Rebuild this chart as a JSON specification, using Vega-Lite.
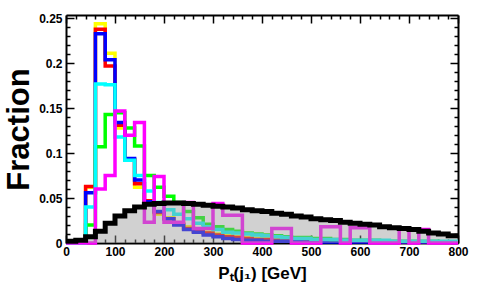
{
  "$schema": "https://vega.github.io/schema/vega-lite/v6.json",
  "width": 392,
  "height": 228,
  "autosize": {"type": "none"},
  "padding": {"left": 66, "top": 15, "right": 19, "bottom": 64},
  "background": "white",
  "config": {
    "view": {"stroke": null},
    "axis": {
      "domain": true, "domainColor": "black", "domainWidth": 2, "grid": false,
      "tickColor": "black", "tickWidth": 1.5, "zindex": 1,
      "labelFont": "Liberation Sans", "labelFontWeight": "bold", "labelFontSize": 12, "labelColor": "black",
      "labelFlush": false, "labelOverlap": false,
      "titleFont": "Liberation Sans", "titleFontWeight": "bold", "titleColor": "black"
    }
  },
  "data": {"values": [
    {"x": 0, "Y": 0, "R": 0, "B": 0, "G": 0, "C": 0, "M": 0, "K": 0.002},
    {"x": 20, "Y": 0, "R": 0, "B": 0, "G": 0, "C": 0, "M": 0, "K": 0.003},
    {"x": 40, "Y": 0.062, "R": 0.063, "B": 0.056, "G": 0.02, "C": 0.04, "M": 0, "K": 0.007},
    {"x": 60, "Y": 0.2439, "R": 0.2379, "B": 0.2328, "G": 0.107, "C": 0.177, "M": 0.06, "K": 0.013},
    {"x": 80, "Y": 0.211, "R": 0.197, "B": 0.204, "G": 0.143, "C": 0.176, "M": 0.075, "K": 0.022},
    {"x": 100, "Y": 0.128, "R": 0.131, "B": 0.134, "G": 0.145, "C": 0.118, "M": 0.147, "K": 0.03},
    {"x": 120, "Y": 0.092, "R": 0.093, "B": 0.094, "G": 0.128, "C": 0.092, "M": 0.12, "K": 0.036},
    {"x": 140, "Y": 0.062, "R": 0.066, "B": 0.07, "G": 0.108, "C": 0.075, "M": 0.134, "K": 0.04},
    {"x": 160, "Y": 0.045, "R": 0.047, "B": 0.046, "G": 0.075, "C": 0.058, "M": 0.023, "K": 0.043},
    {"x": 180, "Y": 0.032, "R": 0.034, "B": 0.035, "G": 0.062, "C": 0.045, "M": 0.074, "K": 0.044},
    {"x": 200, "Y": 0.028, "R": 0.027, "B": 0.027, "G": 0.052, "C": 0.037, "M": 0.023, "K": 0.0445},
    {"x": 220, "Y": 0.022, "R": 0.021, "B": 0.02, "G": 0.045, "C": 0.032, "M": 0.023, "K": 0.0445},
    {"x": 240, "Y": 0.018, "R": 0.016, "B": 0.015, "G": 0.035, "C": 0.027, "M": 0.045, "K": 0.044},
    {"x": 260, "Y": 0.015, "R": 0.013, "B": 0.012, "G": 0.028, "C": 0.022, "M": 0.016, "K": 0.043},
    {"x": 280, "Y": 0.012, "R": 0.011, "B": 0.009, "G": 0.021, "C": 0.018, "M": 0.016, "K": 0.042},
    {"x": 300, "Y": 0.01, "R": 0.009, "B": 0.007, "G": 0.018, "C": 0.015, "M": 0.044, "K": 0.041},
    {"x": 320, "Y": 0.008, "R": 0.007, "B": 0.005, "G": 0.015, "C": 0.012, "M": 0.031, "K": 0.04},
    {"x": 340, "Y": 0.007, "R": 0.006, "B": 0.004, "G": 0.013, "C": 0.011, "M": 0.031, "K": 0.039},
    {"x": 360, "Y": 0.006, "R": 0.005, "B": 0.003, "G": 0.011, "C": 0.01, "M": 0, "K": 0.037},
    {"x": 380, "Y": 0.005, "R": 0.004, "B": 0.003, "G": 0.01, "C": 0.009, "M": 0, "K": 0.036},
    {"x": 400, "Y": 0.005, "R": 0.004, "B": 0.002, "G": 0.009, "C": 0.008, "M": 0, "K": 0.035},
    {"x": 420, "Y": 0.004, "R": 0.003, "B": 0.002, "G": 0.008, "C": 0.007, "M": 0.016, "K": 0.033},
    {"x": 440, "Y": 0.004, "R": 0.003, "B": 0.002, "G": 0.007, "C": 0.006, "M": 0.016, "K": 0.032},
    {"x": 460, "Y": 0.003, "R": 0.003, "B": 0.002, "G": 0.006, "C": 0.005, "M": 0, "K": 0.03},
    {"x": 480, "Y": 0.003, "R": 0.002, "B": 0.001, "G": 0.006, "C": 0.005, "M": 0, "K": 0.029},
    {"x": 500, "Y": 0.003, "R": 0.002, "B": 0.001, "G": 0.005, "C": 0.004, "M": 0, "K": 0.027},
    {"x": 520, "Y": 0.002, "R": 0.002, "B": 0.001, "G": 0.005, "C": 0.004, "M": 0.018, "K": 0.026},
    {"x": 540, "Y": 0.002, "R": 0.002, "B": 0.001, "G": 0.004, "C": 0.004, "M": 0.018, "K": 0.025},
    {"x": 560, "Y": 0.002, "R": 0.002, "B": 0.001, "G": 0.004, "C": 0.003, "M": 0, "K": 0.023},
    {"x": 580, "Y": 0.002, "R": 0.002, "B": 0.001, "G": 0.003, "C": 0.003, "M": 0.017, "K": 0.022},
    {"x": 600, "Y": 0.002, "R": 0.002, "B": 0.001, "G": 0.003, "C": 0.003, "M": 0.017, "K": 0.021},
    {"x": 620, "Y": 0.001, "R": 0.001, "B": 0.001, "G": 0.003, "C": 0.003, "M": 0, "K": 0.02},
    {"x": 640, "Y": 0.001, "R": 0.001, "B": 0.001, "G": 0.002, "C": 0.003, "M": 0, "K": 0.018},
    {"x": 660, "Y": 0.001, "R": 0.001, "B": 0.001, "G": 0.002, "C": 0.002, "M": 0, "K": 0.017},
    {"x": 680, "Y": 0.001, "R": 0.001, "B": 0.001, "G": 0.002, "C": 0.002, "M": 0.016, "K": 0.016},
    {"x": 700, "Y": 0.001, "R": 0.001, "B": 0.001, "G": 0.002, "C": 0.002, "M": 0, "K": 0.015},
    {"x": 720, "Y": 0.001, "R": 0.001, "B": 0.001, "G": 0.002, "C": 0.002, "M": 0.015, "K": 0.013},
    {"x": 740, "Y": 0.001, "R": 0.001, "B": 0.001, "G": 0.002, "C": 0.002, "M": 0, "K": 0.011},
    {"x": 760, "Y": 0.001, "R": 0.001, "B": 0.001, "G": 0.001, "C": 0.002, "M": 0, "K": 0.01},
    {"x": 780, "Y": 0.001, "R": 0.001, "B": 0.001, "G": 0.001, "C": 0.002, "M": 0, "K": 0.008},
    {"x": 800, "Y": 0.001, "R": 0.001, "B": 0.001, "G": 0.001, "C": 0.002, "M": 0, "K": 0.008}
  ]},
  "layer": [
    {
      "mark": {"type": "line", "interpolate": "step-after", "color": "#ffff00", "strokeWidth": 3.5},
      "encoding": {
        "x": {"field": "x", "type": "quantitative", "scale": {"domain": [0, 800], "nice": false},
          "axis": {"orient": "bottom",
            "values": [0,20,40,60,80,100,120,140,160,180,200,220,240,260,280,300,320,340,360,380,400,420,440,460,480,500,520,540,560,580,600,620,640,660,680,700,720,740,760,780,800],
            "tickSize": {"condition": {"test": "datum.value % 100 === 0", "value": -8}, "value": -4},
            "labelExpr": "datum.value % 100 === 0 ? datum.label : ''",
            "labelPadding": 11,
            "title": "Pₜ(j₁) [GeV]", "titleFontSize": 17, "titlePadding": 4}},
        "y": {"field": "Y", "type": "quantitative", "scale": {"domain": [0, 0.2537], "nice": false},
          "axis": {"orient": "left",
            "values": [0,0.01,0.02,0.03,0.04,0.05,0.06,0.07,0.08,0.09,0.1,0.11,0.12,0.13,0.14,0.15,0.16,0.17,0.18,0.19,0.2,0.21,0.22,0.23,0.24,0.25],
            "tickSize": {"condition": {"test": "round(datum.value*100) % 5 === 0", "value": -8}, "value": -4},
            "labelExpr": "round(datum.value*100) % 5 === 0 ? format(datum.value, '~g') : ''",
            "labelPadding": 12,
            "title": "Fraction", "titleFontSize": 31, "titlePadding": 3}}
      }
    },
    {
      "mark": {"type": "line", "interpolate": "step-after", "color": "#ff0000", "strokeWidth": 3.5},
      "encoding": {
        "x": {"field": "x", "type": "quantitative", "scale": {"domain": [0, 800], "nice": false},
          "axis": {"orient": "top",
            "values": [0,20,40,60,80,100,120,140,160,180,200,220,240,260,280,300,320,340,360,380,400,420,440,460,480,500,520,540,560,580,600,620,640,660,680,700,720,740,760,780,800],
            "tickSize": {"condition": {"test": "datum.value % 100 === 0", "value": -8}, "value": -4},
            "labels": false, "title": null}},
        "y": {"field": "R", "type": "quantitative", "scale": {"domain": [0, 0.2537], "nice": false},
          "axis": {"orient": "right",
            "values": [0,0.01,0.02,0.03,0.04,0.05,0.06,0.07,0.08,0.09,0.1,0.11,0.12,0.13,0.14,0.15,0.16,0.17,0.18,0.19,0.2,0.21,0.22,0.23,0.24,0.25],
            "tickSize": {"condition": {"test": "round(datum.value*100) % 5 === 0", "value": -8}, "value": -4},
            "labels": false, "title": null}}
      }
    },
    {
      "mark": {"type": "line", "interpolate": "step-after", "color": "#0000ff", "strokeWidth": 3.5},
      "encoding": {
        "x": {"field": "x", "type": "quantitative", "scale": {"domain": [0, 800], "nice": false}, "axis": null},
        "y": {"field": "B", "type": "quantitative", "scale": {"domain": [0, 0.2537], "nice": false}, "axis": null}
      }
    },
    {
      "mark": {"type": "line", "interpolate": "step-after", "color": "#00ff00", "strokeWidth": 3.5},
      "encoding": {
        "x": {"field": "x", "type": "quantitative", "scale": {"domain": [0, 800], "nice": false}, "axis": null},
        "y": {"field": "G", "type": "quantitative", "scale": {"domain": [0, 0.2537], "nice": false}, "axis": null}
      }
    },
    {
      "mark": {"type": "line", "interpolate": "step-after", "color": "#00ffff", "strokeWidth": 3.5},
      "encoding": {
        "x": {"field": "x", "type": "quantitative", "scale": {"domain": [0, 800], "nice": false}, "axis": null},
        "y": {"field": "C", "type": "quantitative", "scale": {"domain": [0, 0.2537], "nice": false}, "axis": null}
      }
    },
    {
      "mark": {"type": "line", "interpolate": "step-after", "color": "#ff00ff", "strokeWidth": 3.5},
      "encoding": {
        "x": {"field": "x", "type": "quantitative", "scale": {"domain": [0, 800], "nice": false}, "axis": null},
        "y": {"field": "M", "type": "quantitative", "scale": {"domain": [0, 0.2537], "nice": false}, "axis": null}
      }
    },
    {
      "mark": {"type": "area", "interpolate": "step-after", "fill": "#9a9a9a", "fillOpacity": 0.45},
      "encoding": {
        "x": {"field": "x", "type": "quantitative", "scale": {"domain": [0, 800], "nice": false}, "axis": null},
        "y": {"field": "K", "type": "quantitative", "scale": {"domain": [0, 0.2537], "nice": false}, "axis": null}
      }
    },
    {
      "mark": {"type": "line", "interpolate": "step-after", "color": "#000000", "strokeWidth": 5},
      "encoding": {
        "x": {"field": "x", "type": "quantitative", "scale": {"domain": [0, 800], "nice": false}, "axis": null},
        "y": {"field": "K", "type": "quantitative", "scale": {"domain": [0, 0.2537], "nice": false}, "axis": null}
      }
    }
  ],
  "resolve": {"axis": {"x": "independent", "y": "independent"}}
}
